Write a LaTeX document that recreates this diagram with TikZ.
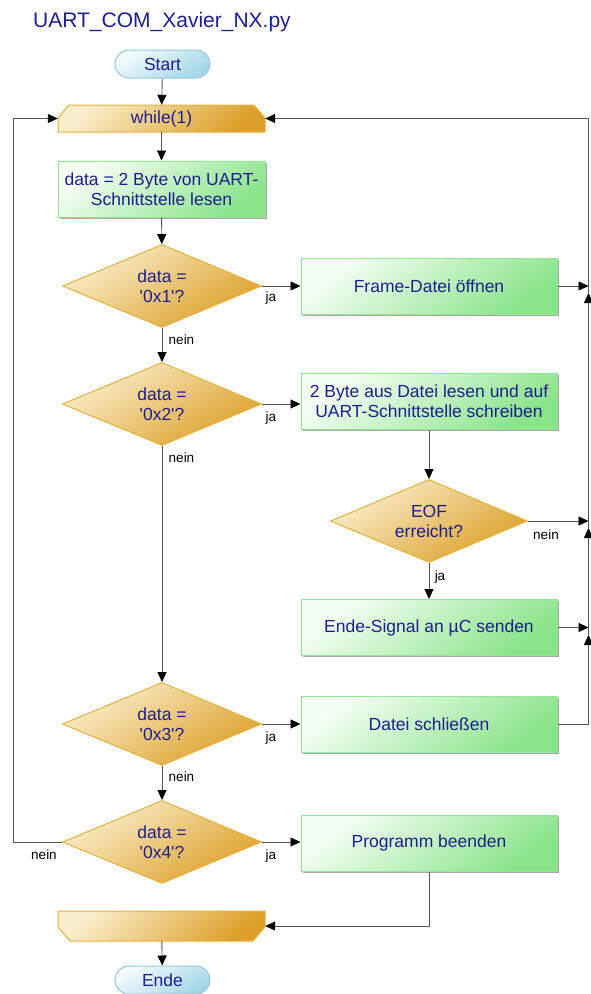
\documentclass[tikz,border=0pt]{standalone}
\usepackage{fontspec}
\setmainfont{Liberation Sans}
\usetikzlibrary{arrows.meta,shapes.geometric,shadows}

\definecolor{txt}{RGB}{30,30,140}
\definecolor{grnA}{RGB}{246,255,246}
\definecolor{grnB}{RGB}{138,228,138}
\definecolor{grnE}{RGB}{150,226,150}
\definecolor{gldA}{RGB}{251,238,204}
\definecolor{gldB}{RGB}{220,160,42}
\definecolor{gldE}{RGB}{226,178,66}
\definecolor{bluA}{RGB}{244,251,253}
\definecolor{bluB}{RGB}{164,214,232}
\definecolor{bluE}{RGB}{150,200,222}
\definecolor{wire}{RGB}{85,85,85}

\tikzset{
  nodefont/.style={font=\fontsize{17.5pt}{20pt}\selectfont, text=txt},
  procbox/.style={rectangle, nodefont, draw=grnE, line width=1pt,
    top color=grnA, bottom color=grnB, shading angle=38,
    minimum width=256pt, minimum height=56pt, inner sep=0pt, align=center,
    drop shadow={shadow xshift=1.6pt, shadow yshift=-1.6pt, opacity=0.35, fill=black}},
  decision/.style={diamond, nodefont, draw=gldE, line width=1pt,
    top color=gldA, bottom color=gldB, shading angle=32,
    aspect=2.4, minimum width=199pt, minimum height=83pt, inner sep=0pt, align=center},
  goldshape/.style={draw=gldE, line width=1pt, top color=gldA, bottom color=gldB, shading angle=42},
  terminal/.style={rectangle, rounded corners=14pt, nodefont, draw=bluE, line width=1pt,
    top color=bluA, bottom color=bluB, shading angle=32,
    minimum width=95pt, minimum height=28pt, inner sep=0pt},
  plain/.style={rectangle, nodefont, inner sep=0pt, align=center},
  lbl/.style={font=\fontsize{13.5pt}{15pt}\selectfont, text=black, inner sep=0pt},
  wireline/.style={draw=wire, line width=0.9pt},
  arr/.style={wireline, -{Triangle[length=10pt, width=9pt, color=black]}}
}

\newcommand{\sq}{\textquotesingle}

\begin{document}
\begin{tikzpicture}[x=1pt, y=-1pt]
\useasboundingbox (0,0) rectangle (590,994);

% title
\node[anchor=west, inner sep=0pt, text=txt, font=\fontsize{21pt}{24pt}\selectfont]
  (ttl) at (33,22) {UART\_COM\_Xavier\_NX.py};

% main column
\node[terminal] (st) at (162.5,64) {Start};

\path[goldshape] (58,132) -- (58,118) -- (69,105) -- (254,105) -- (265,118) -- (265,132) -- cycle;
\node[plain, minimum width=207pt, minimum height=27pt] (wh) at (161.5,118.5) {while(1)};

\node[procbox, minimum width=207pt] (rd) at (161.5,189) {data = 2 Byte von UART-\\Schnittstelle lesen};

\node[decision] (d1) at (162,286) {data =\\\sq0x1\sq?};
\node[decision] (d2) at (162,404) {data =\\\sq0x2\sq?};
\node[decision] (d3) at (162,724) {data =\\\sq0x3\sq?};
\node[decision] (d4) at (162,842) {data =\\\sq0x4\sq?};

\path[goldshape] (58,911) -- (265,911) -- (265,927) -- (253,941) -- (70,941) -- (58,927) -- cycle;
\node[plain, minimum width=207pt, minimum height=30pt] (le) at (161.5,926) {};

\node[terminal] (en) at (162.5,980) {Ende};

% right column
\node[procbox] (fo) at (429,286) {Frame-Datei öffnen};
\node[procbox] (rw) at (429,401.5) {2 Byte aus Datei lesen und auf\\UART-Schnittstelle schreiben};
\node[decision, aspect=2.37, minimum width=197pt] (eof) at (429,521) {EOF\\erreicht?};
\node[procbox] (es) at (429,627.5) {Ende-Signal an µC senden};
\node[procbox] (dc) at (429,724) {Datei schließen};
\node[procbox] (pe) at (429,843) {Programm beenden};

% return bus on the right
\coordinate (r1) at (588.5,286);
\coordinate (r2) at (588.5,521);
\coordinate (r3) at (588.5,627.5);
\coordinate (r4) at (588.5,724);
\coordinate (u1) at (588.5,293);
\coordinate (u2) at (588.5,528);
\coordinate (u3) at (588.5,635);
% return line on the left
\coordinate (lb) at (13,842);

% main flow
\draw[arr] (st) -- (wh);
\draw[arr] (wh) -- (rd);
\draw[arr] (rd) -- (d1);
\draw[arr] (d1) -- (d2);
\draw[arr] (d2) -- (d3);
\draw[arr] (d3) -- (d4);
\draw[arr] (le) -- (en);

% branches
\draw[arr] (d1.east) -- (d1.east -| fo.west);
\draw[arr] (d2.east) -- (d2.east -| rw.west);
\draw[arr] (d3.east) -- (d3.east -| dc.west);
\draw[arr] (d4.east) -- (d4.east -| pe.west);
\draw[arr] (rw) -- (eof);
\draw[arr] (eof) -- (es);
\draw[arr] (pe.south) |- (le.east);

% back to the loop head
\draw[arr] (fo.east) -- (r1);
\draw[arr] (eof.east) -- (r2);
\draw[arr] (es.east) -- (r3);
\draw[wireline] (dc.east) -- (r4);
\draw[arr] (r4) -- (u3);
\draw[arr] (u3) -- (u2);
\draw[arr] (u2) -- (u1);
\draw[arr] (u1) |- (wh.east);
\draw[arr] (d4.west) -- (lb) |- (wh.west);

% branch labels
\node[lbl] at (271,298) {ja};
\node[lbl] at (271,418) {ja};
\node[lbl] at (271,738) {ja};
\node[lbl] at (271,856) {ja};
\node[lbl] at (181.5,340) {nein};
\node[lbl] at (181.5,458) {nein};
\node[lbl] at (181.5,777) {nein};
\node[lbl] at (44,855) {nein};
\node[lbl] at (546,535) {nein};
\node[lbl] at (440,577) {ja};
\end{tikzpicture}
\end{document}
